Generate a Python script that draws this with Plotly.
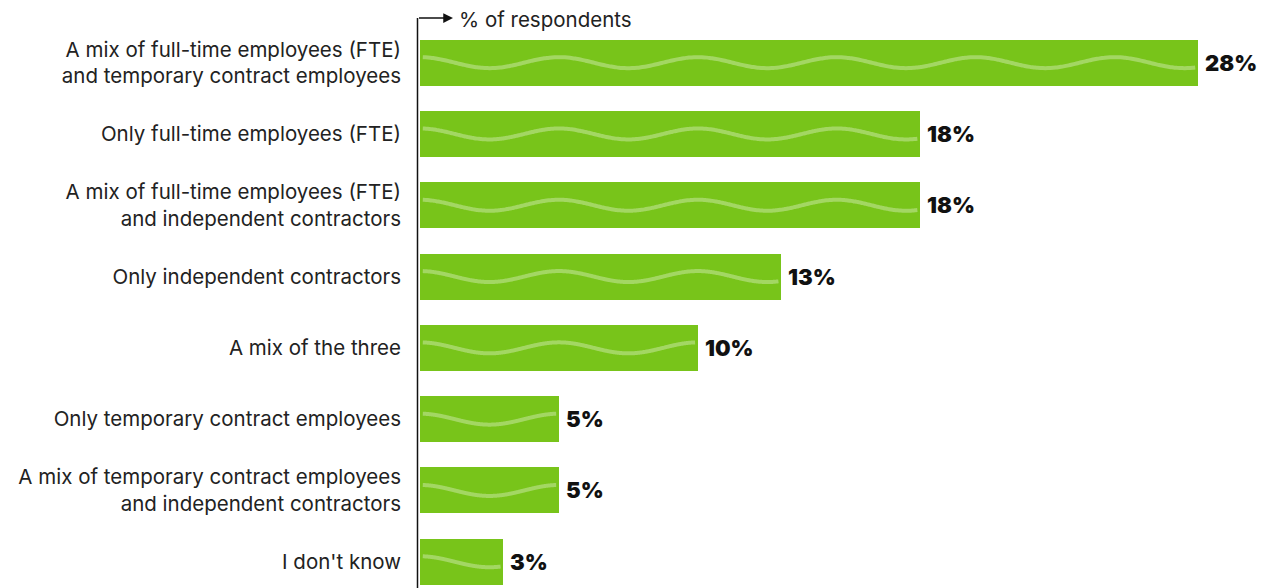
import numpy as np
import plotly.graph_objects as go

# Survey responses: workforce composition
categories = [
    "A mix of full-time employees (FTE)<br>and temporary contract employees",
    "Only full-time employees (FTE)",
    "A mix of full-time employees (FTE)<br>and independent contractors",
    "Only independent contractors",
    "A mix of the three",
    "Only temporary contract employees",
    "A mix of temporary contract employees<br>and independent contractors",
    "I don't know",
]
values = [28, 18, 18, 13, 10, 5, 5, 3]
value_labels = [f"{v}%" for v in values]
axis_title = "% of respondents"

BAR_GREEN = "#78c41a"
WAVE_COLOR = "rgba(255,255,255,0.32)"
LABEL_FONT = "Inter"
positions = list(range(len(categories)))

fig = go.Figure()

fig.add_trace(go.Bar(
    x=values,
    y=positions,
    orientation="h",
    marker=dict(color=BAR_GREEN, line=dict(width=0)),
    width=0.645,
    hoverinfo="skip",
))

# Decorative wave running along each bar (period of 5 percentage points)
wave_period = 5.0
wave_amp = 0.077
inset = 0.1
for pos, v in zip(positions, values):
    xs = np.linspace(inset, v - inset, 300)
    ys = pos - wave_amp * np.cos(2 * np.pi * xs / wave_period)
    fig.add_trace(go.Scatter(
        x=xs, y=ys, mode="lines",
        line=dict(color=WAVE_COLOR, width=4, shape="spline"),
        hoverinfo="skip", showlegend=False,
    ))

# Value labels to the right of each bar
for pos, v, lbl in zip(positions, values, value_labels):
    fig.add_annotation(
        x=v, y=pos, xref="x", yref="y", text=lbl, showarrow=False,
        xanchor="left", yanchor="middle", xshift=5,
        font=dict(family=LABEL_FONT, size=22, color="#111111", weight=900),
    )

plot_top, plot_bottom = 27, 0
px_per_row = 71.3
W, H = 1264, 588
margin_l, margin_r = 420, 0
plot_h = H - plot_top - plot_bottom
plot_w = W - margin_l - margin_r
px_per_pct = 778 / 28.0
x_max = plot_w / px_per_pct

fig.update_layout(
    width=W, height=H,
    margin=dict(l=margin_l, r=margin_r, t=plot_top, b=plot_bottom),
    paper_bgcolor="white", plot_bgcolor="white",
    showlegend=False,
    bargap=0,
    xaxis=dict(range=[0, x_max], visible=False, fixedrange=True),
    yaxis=dict(
        range=[-0.5 + plot_h / px_per_row, -0.5],
        tickvals=positions, ticktext=categories,
        ticks="", showline=False, showgrid=False, zeroline=False,
        ticklabelstandoff=18,
        tickfont=dict(family=LABEL_FONT, size=20.5, color="#222222"),
        fixedrange=True,
    ),
    font=dict(family=LABEL_FONT),
)

# Vertical axis line extending above the plot, with arrow to the title
top_paper = 1 + 9 / plot_h
line_x = -2.5 / plot_w
fig.add_shape(type="line", xref="paper", yref="paper",
              x0=line_x, x1=line_x, y0=-0.02, y1=top_paper,
              line=dict(color="#111111", width=1.5))
fig.add_annotation(
    xref="paper", yref="paper", x=33 / plot_w, y=top_paper,
    ax=-35.5, ay=0, axref="pixel", ayref="pixel",
    text="", showarrow=True, arrowhead=2, arrowsize=1.3,
    arrowwidth=1.5, arrowcolor="#111111",
)
fig.add_annotation(
    xref="paper", yref="paper", x=37 / plot_w, y=top_paper,
    text=axis_title, showarrow=False, xanchor="left", yanchor="middle",
    yshift=-2,
    font=dict(family=LABEL_FONT, size=20.5, color="#222222"),
)

fig.write_html("out.html")
